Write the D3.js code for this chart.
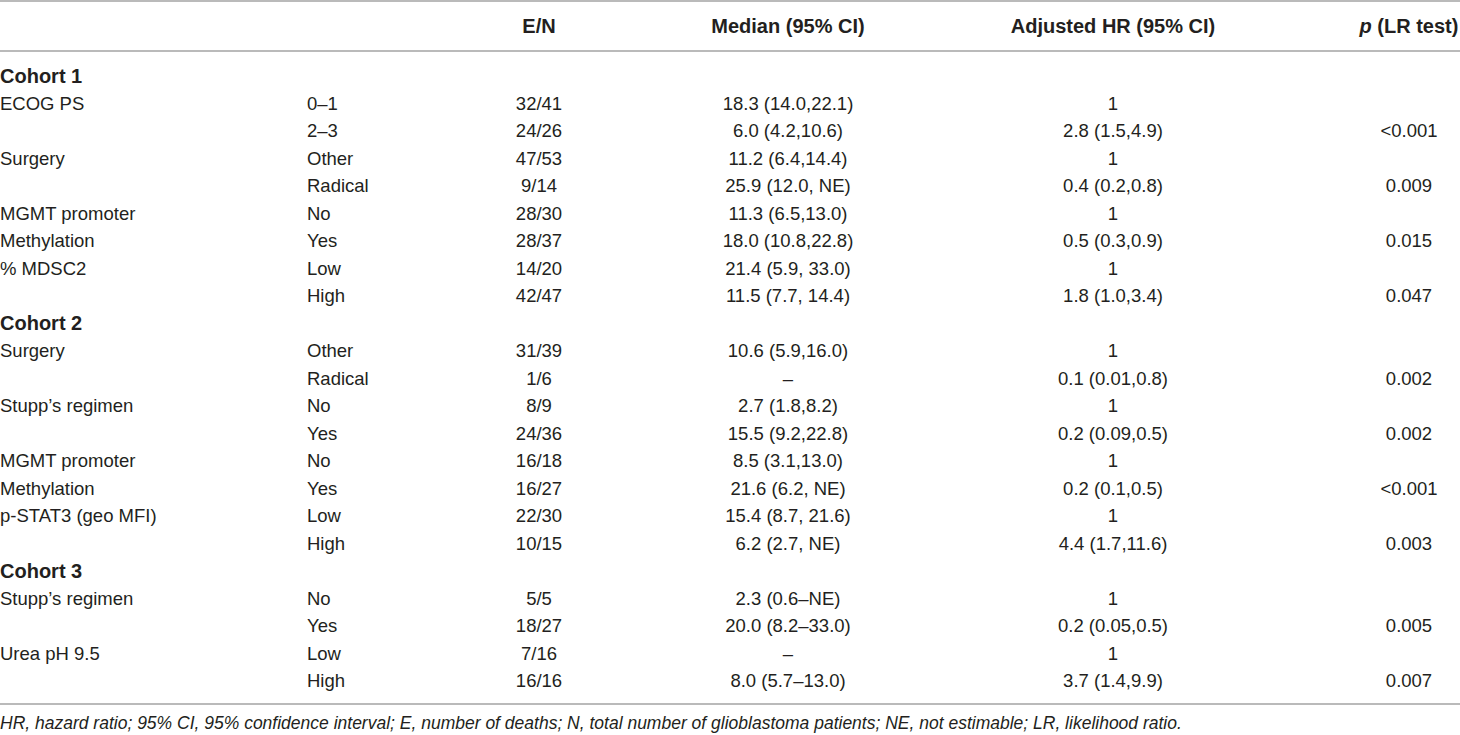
<!DOCTYPE html>
<html>
<head>
<meta charset="utf-8">
<script src="https://cdn.jsdelivr.net/npm/d3@7"></script>
<style>
  body { margin: 0; background: #fff; }
  svg { display: block; }
</style>
</head>
<body>
<svg id="table"></svg>
<script>
// table content, one array per column
var headers = ["", "", "E/N", "Median (95% CI)", "Adjusted HR (95% CI)", "p"];
var groupRows = [0, 9, 18];
var variables = ["Cohort 1", "ECOG PS", "", "Surgery", "", "MGMT promoter", "Methylation", "% MDSC2", "",
  "Cohort 2", "Surgery", "", "Stupp\u2019s regimen", "", "MGMT promoter", "Methylation", "p-STAT3 (geo MFI)", "",
  "Cohort 3", "Stupp\u2019s regimen", "", "Urea pH 9.5", ""];
var levels = ["", "0\u20131", "2\u20133", "Other", "Radical", "No", "Yes", "Low", "High",
  "", "Other", "Radical", "No", "Yes", "No", "Yes", "Low", "High",
  "", "No", "Yes", "Low", "High"];
var eventsN = ["", "32/41", "24/26", "47/53", "9/14", "28/30", "28/37", "14/20", "42/47",
  "", "31/39", "1/6", "8/9", "24/36", "16/18", "16/27", "22/30", "10/15",
  "", "5/5", "18/27", "7/16", "16/16"];
var medians = ["", "18.3 (14.0,22.1)", "6.0 (4.2,10.6)", "11.2 (6.4,14.4)", "25.9 (12.0, NE)", "11.3 (6.5,13.0)",
  "18.0 (10.8,22.8)", "21.4 (5.9, 33.0)", "11.5 (7.7, 14.4)",
  "", "10.6 (5.9,16.0)", "\u2013", "2.7 (1.8,8.2)", "15.5 (9.2,22.8)", "8.5 (3.1,13.0)", "21.6 (6.2, NE)",
  "15.4 (8.7, 21.6)", "6.2 (2.7, NE)",
  "", "2.3 (0.6\u2013NE)", "20.0 (8.2\u201333.0)", "\u2013", "8.0 (5.7\u201313.0)"];
var hazards = ["", "1", "2.8 (1.5,4.9)", "1", "0.4 (0.2,0.8)", "1", "0.5 (0.3,0.9)", "1", "1.8 (1.0,3.4)",
  "", "1", "0.1 (0.01,0.8)", "1", "0.2 (0.09,0.5)", "1", "0.2 (0.1,0.5)", "1", "4.4 (1.7,11.6)",
  "", "1", "0.2 (0.05,0.5)", "1", "3.7 (1.4,9.9)"];
var pValues = ["", "", "<0.001", "", "0.009", "", "0.015", "", "0.047",
  "", "", "0.002", "", "0.002", "", "<0.001", "", "0.003",
  "", "", "0.005", "", "0.007"];
var footnote = "HR, hazard ratio; 95% CI, 95% confidence interval; E, number of deaths; N, total number of glioblastoma patients; NE, not estimable; LR, likelihood ratio.";

var columns = [variables, levels, eventsN, medians, hazards, pValues];

var width = 1460;
var height = 735;
var textColor = "#231f20";
var ruleColor = "#a3a3a3";

// column anchors
var colX = [0, 307, 539, 788, 1113, 1409];
var colAnchor = ["start", "start", "middle", "middle", "middle", "middle"];

var yScale = d3.scalePoint()
    .domain(d3.range(variables.length))
    .range([75.5, 680.5]);

var svg = d3.select("#table")
    .attr("width", width)
    .attr("height", height)
    .attr("viewBox", [0, 0, width, height]);

// rules
svg.selectAll("line.rule")
  .data([1, 51, 704])
  .join("line")
    .attr("class", "rule")
    .attr("x1", 0)
    .attr("x2", width)
    .attr("y1", d => d)
    .attr("y2", d => d)
    .attr("stroke", ruleColor)
    .attr("stroke-width", 1.6);

// header
var head = svg.append("g")
    .attr("font-family", "'Liberation Sans', Arial, sans-serif")
    .attr("font-weight", "bold")
    .attr("font-size", "20px")
    .attr("fill", textColor);

headers.forEach(function(h, i) {
  if (!h) return;
  var t = head.append("text")
      .attr("x", colX[i])
      .attr("y", 26)
      .attr("dy", "0.36em")
      .attr("text-anchor", colAnchor[i]);
  if (i === 5) {
    t.append("tspan").attr("font-style", "italic").text("p");
    t.append("tspan").text(" (LR test)");
  } else {
    t.text(h);
  }
});

// body cells
var body = svg.append("g")
    .attr("font-family", "'Liberation Sans', Arial, sans-serif")
    .attr("font-size", "18.5px")
    .attr("fill", textColor);

columns.forEach(function(col, ci) {
  body.append("g")
    .selectAll("text")
    .data(col.map((v, ri) => ({ v: v, r: ri })).filter(d => d.v !== ""))
    .join("text")
      .attr("x", colX[ci])
      .attr("y", d => yScale(d.r))
      .attr("dy", "0.36em")
      .attr("text-anchor", colAnchor[ci])
      .attr("font-weight", d => groupRows.indexOf(d.r) >= 0 ? "bold" : null)
      .attr("font-size", d => groupRows.indexOf(d.r) >= 0 ? "20px" : null)
      .text(d => d.v);
});

// footnote
svg.append("text")
    .attr("x", 0)
    .attr("y", 723)
    .attr("dy", "0.36em")
    .attr("font-family", "'Liberation Sans', Arial, sans-serif")
    .attr("font-style", "italic")
    .attr("font-size", "17.5px")
    .attr("fill", textColor)
    .text(footnote);
</script>
</body>
</html>
